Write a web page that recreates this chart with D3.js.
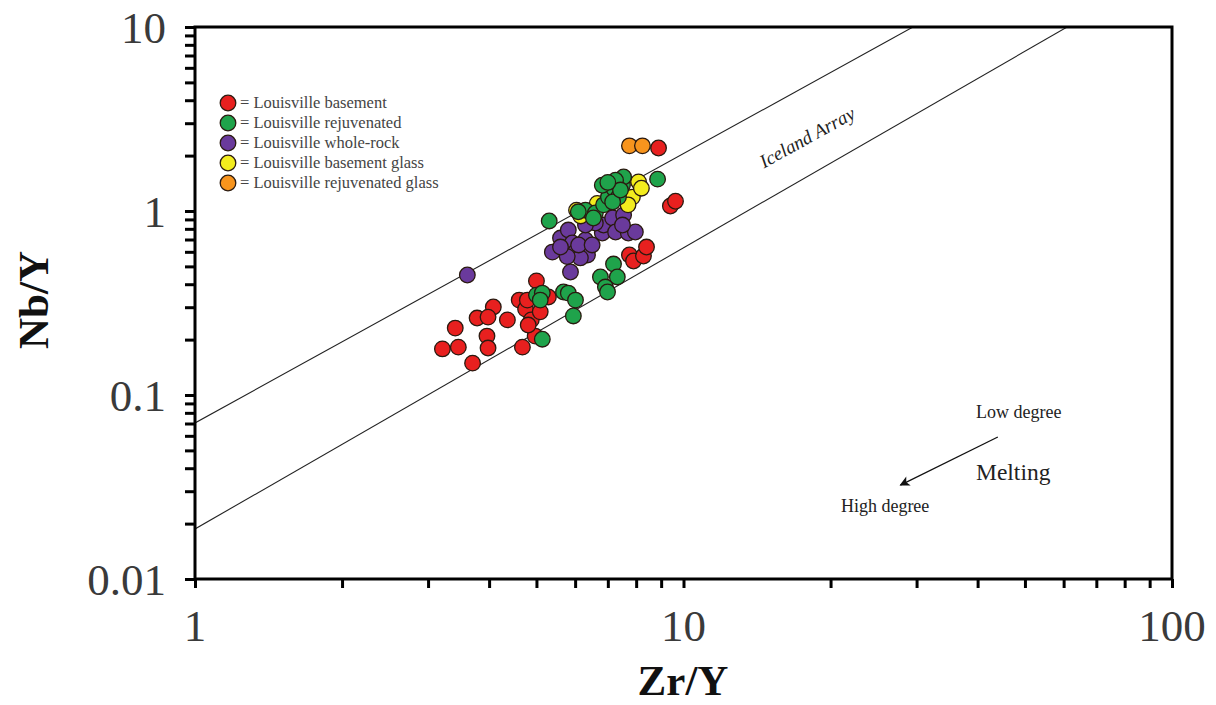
<!DOCTYPE html>
<html><head><meta charset="utf-8">
<script src="https://cdn.jsdelivr.net/npm/d3@7"></script>
<style>body{margin:0;background:#fff}svg{display:block}</style>
</head><body>
<svg id="c" width="1216" height="705"></svg>
<script>
// ---- data (Zr/Y, Nb/Y) ----
const seriesNames = ["Louisville basement","Louisville rejuvenated","Louisville whole-rock","Louisville basement glass","Louisville rejuvenated glass"];
const seriesColors = ["#e8201f","#1fa34b","#6a3a9c","#f3ec1e","#f7941d"];
const basementZr = [3.21,3.46,3.41,3.70,3.78,4.08,3.98,3.96,3.98,4.36,4.61,4.75,4.88,4.68,4.97,5.09,5.29,5.00,4.79,4.81,7.75,7.90,8.28,8.40,9.40,9.63,8.89];
const basementNb = [0.178,0.182,0.231,0.149,0.262,0.301,0.265,0.209,0.180,0.256,0.328,0.293,0.256,0.182,0.209,0.283,0.341,0.417,0.328,0.240,0.577,0.535,0.569,0.637,1.064,1.13,2.2];
const rejuvZr = [5.31,5.00,5.14,5.09,5.14,5.68,5.81,6.01,5.95,6.76,7.19,7.32,6.92,6.99,6.30,6.60,6.09,6.86,7.02,7.19,7.50,7.54,7.26,6.82,7.36,7.16,8.85,6.54,7.43,7.00];
const rejuvNb = [0.883,0.349,0.358,0.328,0.201,0.363,0.358,0.328,0.269,0.438,0.515,0.438,0.386,0.363,1.01,0.975,0.99,1.08,1.19,1.33,1.38,1.53,1.47,1.38,1.19,1.12,1.49,0.916,1.30,1.43];
const wholeZr = [3.61,5.39,5.60,5.81,5.92,6.01,6.30,6.36,6.15,5.78,5.87,5.60,6.82,6.86,7.16,7.26,7.54,7.71,7.97,6.60,6.30,7.50,6.10,6.50];
const wholeNb = [0.449,0.598,0.713,0.788,0.670,0.598,0.696,0.577,0.556,0.565,0.466,0.637,0.759,0.839,0.916,0.769,0.951,0.759,0.769,0.86,0.839,0.839,0.654,0.654];
const bGlassZr = [6.04,6.16,8.09,7.86,8.20,6.66,7.70];
const bGlassNb = [1.01,0.94,1.44,1.19,1.33,1.10,1.08];
const rGlassZr = [7.75,8.24];
const rGlassNb = [2.26,2.26];
// Iceland array bounding lines
const upperLineZr = [1, 29.5], upperLineNb = [0.0705, 10];
const lowerLineZr = [1, 61], lowerLineNb = [0.0187, 10];
const xTickLabels = ["1","10","100"];
const yTickLabels = ["0.01","0.1","1","10"];

// ---- layout ----
const svg = d3.select("#c");
const L = 195, R = 1172, T = 27, B = 579;
const x = d3.scaleLog().domain([1,100]).range([L,R]);
const y = d3.scaleLog().domain([0.01,10]).range([B,T]);
const serif = "'Liberation Serif','Times New Roman',serif";

svg.append("defs").append("clipPath").attr("id","clip")
  .append("rect").attr("x",L).attr("y",T).attr("width",R-L).attr("height",B-T);
const marker = svg.select("defs").append("marker").attr("id","arr")
  .attr("viewBox","0 0 10 10").attr("refX",9).attr("refY",5)
  .attr("markerWidth",14).attr("markerHeight",10).attr("orient","auto")
  .attr("markerUnits","userSpaceOnUse");
marker.append("path").attr("d","M0,0 L10,5 L0,10 L2.5,5 z").attr("fill","#111");

// lines
const line = d3.line().x(d=>x(d[0])).y(d=>y(d[1]));
const gl = svg.append("g").attr("clip-path","url(#clip)");
[[upperLineZr,upperLineNb],[lowerLineZr,lowerLineNb]].forEach(([a,b])=>{
  const k = Math.log(b[1]/b[0])/Math.log(a[1]/a[0]);
  const pts = [[a[0], b[0]], [200, b[0]*Math.pow(200/a[0],k)]];
  gl.append("path").attr("d",line(pts)).attr("fill","none").attr("stroke","#222").attr("stroke-width",1.1);
});

// Iceland Array label
{
  const x1=x(upperLineZr[0]), y1=y(upperLineNb[0]), x2=x(upperLineZr[1]), y2=y(upperLineNb[1]);
  const ang = Math.atan2(y2-y1,x2-x1)*180/Math.PI;
  svg.append("text").attr("transform",`translate(${x(17.9)},${y(2.52)}) rotate(${ang})`)
    .attr("text-anchor","middle").attr("dy","0.35em").attr("font-family",serif).attr("font-style","italic")
    .attr("font-size",19).attr("fill","#222").text("Iceland Array");
}

// points
const sets = [[basementZr,basementNb,0],[wholeZr,wholeNb,2],[bGlassZr,bGlassNb,3],[rGlassZr,rGlassNb,4],[rejuvZr,rejuvNb,1]];
const gp = svg.append("g");
sets.forEach(([xs,ys,i])=>{
  gp.selectAll(null).data(xs.map((v,j)=>[v,ys[j]])).join("circle")
    .attr("cx",d=>x(d[0])).attr("cy",d=>y(d[1])).attr("r",7.8)
    .attr("fill",seriesColors[i]).attr("stroke","#2a1a10").attr("stroke-width",1.3);
});

// legend
const lg = svg.append("g");
seriesNames.forEach((n,i)=>{
  const yy = 103 + i*20;
  lg.append("circle").attr("cx",228).attr("cy",yy).attr("r",7.8)
    .attr("fill",seriesColors[i]).attr("stroke","#2a1a10").attr("stroke-width",1.3);
  lg.append("text").attr("x",240).attr("y",yy+5).attr("font-family",serif)
    .attr("font-size",16.5).attr("fill","#444").text("= "+n);
});

// melting annotation
svg.append("line").attr("x1",x(44)).attr("y1",y(0.0591)).attr("x2",x(27.8)).attr("y2",y(0.0324))
  .attr("stroke","#111").attr("stroke-width",1.3).attr("marker-end","url(#arr)");
svg.append("text").attr("x",x(39.7)).attr("y",y(0.075)).attr("font-family",serif).attr("font-size",18).attr("fill","#222").text("Low degree");
svg.append("text").attr("x",x(39.7)).attr("y",y(0.0345)).attr("font-family",serif).attr("font-size",23.5).attr("fill","#222").text("Melting");
svg.append("text").attr("x",x(21.0)).attr("y",y(0.0231)).attr("font-family",serif).attr("font-size",18).attr("fill","#222").text("High degree");

// axes
const xMinor = d3.range(1,3).flatMap(p=>d3.range(1,10).map(m=>m*Math.pow(10,p-1))).concat([100]);
const yMinor = d3.range(-2,1).flatMap(p=>d3.range(1,10).map(m=>+(m*Math.pow(10,p)).toPrecision(3))).concat([10]);
const ax = svg.append("g").attr("transform",`translate(0,${B})`)
  .call(d3.axisBottom(x).tickValues(xMinor).tickSize(9).tickFormat(""));
const ay = svg.append("g").attr("transform",`translate(${L},0)`)
  .call(d3.axisLeft(y).tickValues(yMinor).tickSize(10).tickFormat(""));
[ax,ay].forEach(g=>{g.select(".domain").remove(); g.selectAll("line").attr("stroke","#000").attr("stroke-width",3);});
svg.append("rect").attr("x",L).attr("y",T).attr("width",R-L).attr("height",B-T)
  .attr("fill","none").attr("stroke","#000").attr("stroke-width",3);

// tick labels
[1,10,100].forEach((v,i)=>svg.append("text").attr("x",x(v)).attr("y",641).attr("text-anchor","middle")
  .attr("font-family",serif).attr("font-size",45).attr("fill","#3a3a3a").text(xTickLabels[i]));
[0.01,0.1,1,10].forEach((v,i)=>svg.append("text").attr("x",166).attr("y",y(v)+16).attr("text-anchor","end")
  .attr("font-family",serif).attr("font-size",45).attr("fill","#3a3a3a").text(yTickLabels[i]));

// titles
svg.append("text").attr("x",683).attr("y",695).attr("text-anchor","middle").attr("font-family",serif)
  .attr("font-weight","bold").attr("font-size",43).attr("fill","#111").text("Zr/Y");
svg.append("text").attr("transform","translate(48,300) rotate(-90)").attr("text-anchor","middle").attr("font-family",serif)
  .attr("font-weight","bold").attr("font-size",43).attr("fill","#111").text("Nb/Y");
</script>
</body></html>
